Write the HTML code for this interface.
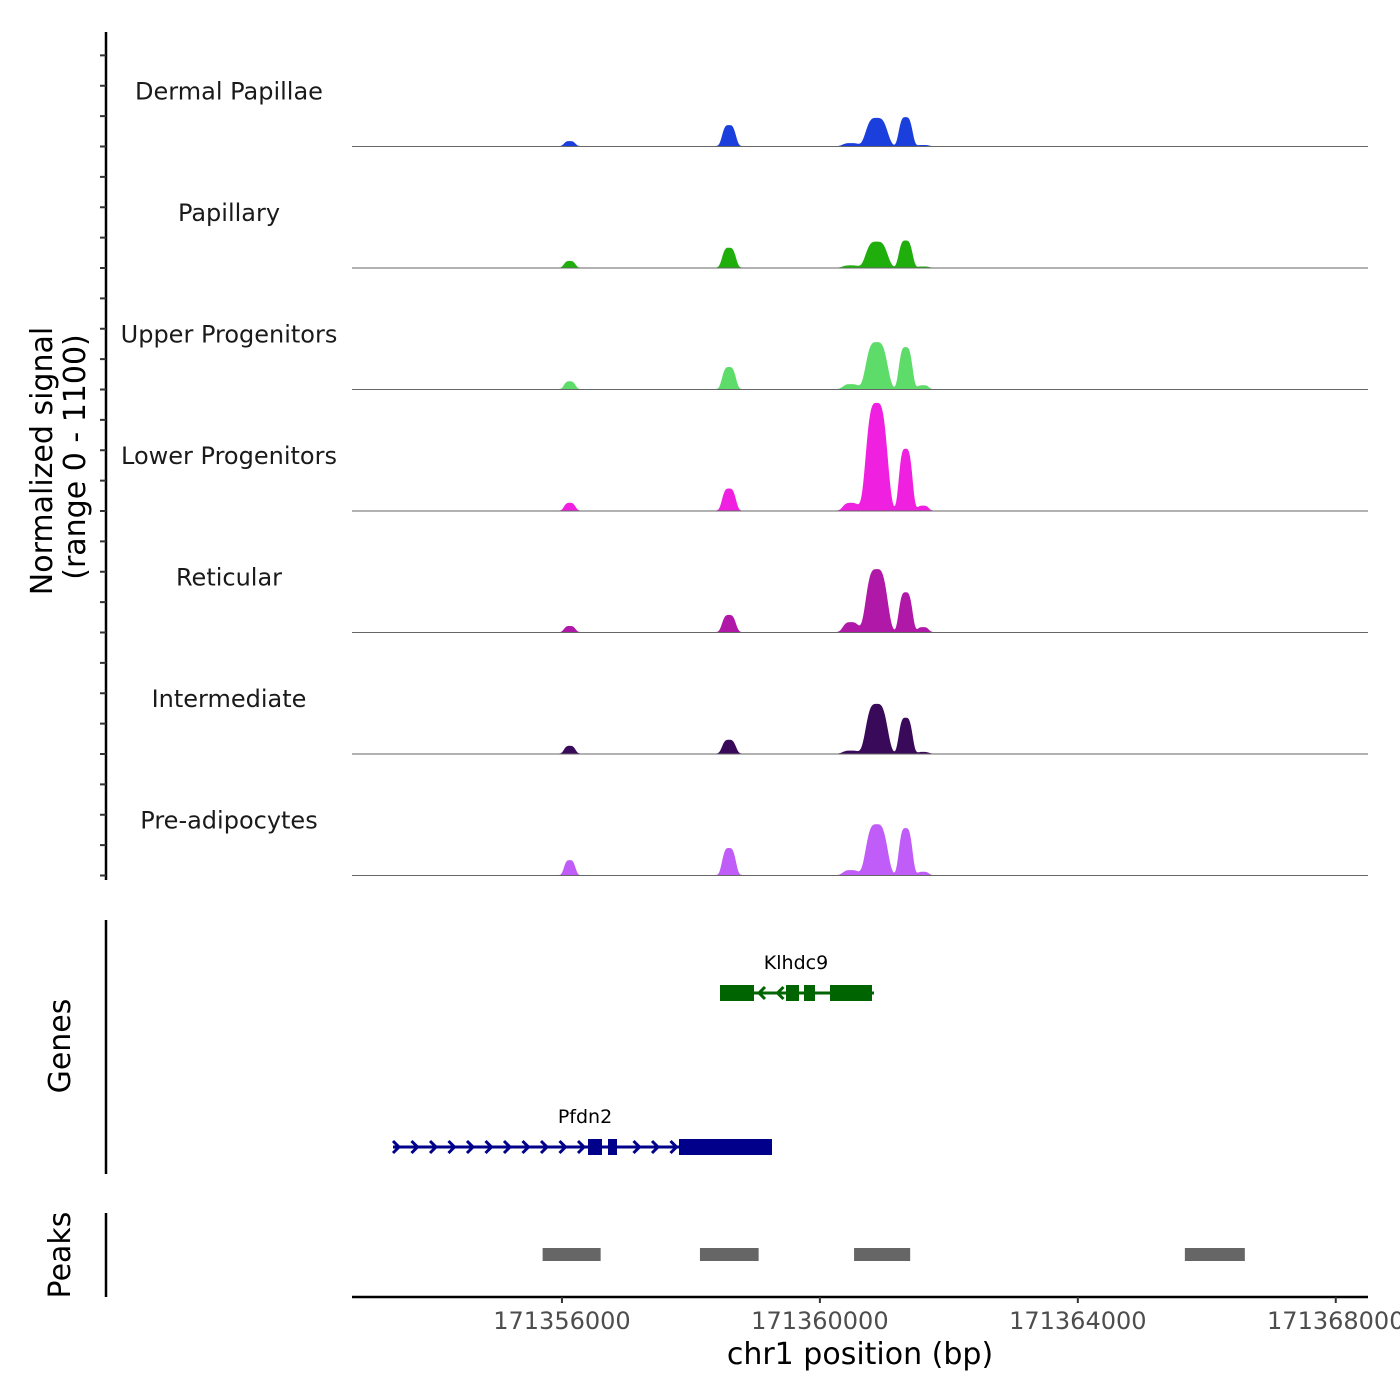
<!DOCTYPE html>
<html><head><meta charset="utf-8"><style>
html,body{margin:0;padding:0;background:#fff;width:1400px;height:1400px;overflow:hidden}
svg{font-family:"DejaVu Sans","Liberation Sans",sans-serif}
</style></head><body>
<svg id="chart" width="1400" height="1400" viewBox="0 0 1400 1400" xmlns="http://www.w3.org/2000/svg"></svg>
<script>
const trackNames = ["Dermal Papillae","Papillary","Upper Progenitors","Lower Progenitors","Reticular","Intermediate","Pre-adipocytes"];
const trackColors = ["#1a3fdc","#1fae0c","#5ddc6a","#f020e0","#b018a8","#3a0a5a","#c05cf8"];
const peakCenters = [171356120,171358590,171360480,171360880,171361330,171361600];
const peakWidths = [100,120,140,190,120,100];
const dermalValues = [45,190,27,255,262,10];
const papillaryValues = [60,180,20,235,245,10];
const upperValues = [70,200,45,425,380,35];
const lowerValues = [70,200,70,975,560,45];
const reticularValues = [55,155,90,570,360,45];
const intermediateValues = [70,125,27,450,325,15];
const preadipoValues = [135,245,45,460,425,30];
const trackValues = [dermalValues,papillaryValues,upperValues,lowerValues,reticularValues,intermediateValues,preadipoValues];
const xTicks = [171356000,171360000,171364000,171368000];
const peakRegions = [[171355700,171356600],[171358140,171359050],[171360530,171361400],[171365660,171366590]];
const xMin = 171352744, xMax = 171368500;

const svg = document.getElementById('chart');
const NS = "http://www.w3.org/2000/svg";
function mk(tag, attrs, parent){const e=document.createElementNS(NS,tag);for(const k in attrs)e.setAttribute(k,attrs[k]);(parent||svg).appendChild(e);return e;}
const X0=352, X1=1368;
function xs(bp){return X0+(bp-xMin)/(xMax-xMin)*(X1-X0);}
const trackH=121.5, firstBase=146.5;
function ys(v,base){return base - v/1100*trackH;}

let ax=mk('line',{x1:106,y1:32,x2:106,y2:880,stroke:'#000','stroke-width':2.5});

for(let t=0;t<7;t++){const base=firstBase+t*trackH;for(let k=0;k<4;k++){const y=base-k*trackH/4;
 const tk=mk('line',{x1:100,y1:y,x2:106,y2:y,stroke:'#333','stroke-width':2});
 }}
let yt=mk('text',{x:0,y:0,'font-size':30,'text-anchor':'middle',transform:'translate(52,461) rotate(-90)'});

yt.textContent='Normalized signal';
let yt2=mk('text',{x:0,y:0,'font-size':30,'text-anchor':'middle',transform:'translate(85,457) rotate(-90)'});

yt2.textContent='(range 0 - 1100)';

trackNames.forEach((name,t)=>{
 const base=firstBase+t*trackH;
 const g=mk('g',{});
 const lab=mk('text',{x:229,y:base-47,'font-size':24,'text-anchor':'middle',fill:'#1a1a1a'},g);
 lab.textContent=name;
 const vals=trackValues[t];
 let d='M'+X0+','+base;
 for(let px=X0;px<=X1;px+=1){
  const bp=xMin+(px-X0)/(X1-X0)*(xMax-xMin);
  let v=4;
  peakCenters.forEach((c,i)=>{const z=(bp-c)/peakWidths[i];v+=vals[i]*Math.exp(-Math.pow(Math.abs(z),3.5));});
  d+=' L'+px+','+ys(v,base).toFixed(1);
 }
 d+=' L'+X1+','+base+' Z';
 const area=mk('path',{d:d,fill:trackColors[t]},g);
 
 const bl=mk('line',{x1:X0,y1:base,x2:X1,y2:base,stroke:'#666','stroke-width':1},g);
 
});

let ga=mk('line',{x1:106,y1:920,x2:106,y2:1174,stroke:'#000','stroke-width':2.5});

let gt=mk('text',{x:0,y:0,'font-size':30,'text-anchor':'middle',transform:'translate(70,1046) rotate(-90)'});
gt.textContent='Genes';
function gene(name,color,y,x1,x2,exons,dir,lx,ly){
 const g=mk('g',{});
 mk('line',{x1:x1,y1:y,x2:x2,y2:y,stroke:color,'stroke-width':3},g);
 for(let x=x1+4;x<x2;x+=18.5){
  let inEx=exons.some(e=>x>e[0]-4&&x<e[1]+4);if(inEx)continue;
  mk('polyline',{points:dir>0?`${x-4},${y-6} ${x+2},${y} ${x-4},${y+6}`:`${x+4},${y-6} ${x-2},${y} ${x+4},${y+6}`,fill:'none',stroke:color,'stroke-width':3},g);
 }
 exons.forEach(e=>mk('rect',{x:e[0],y:y-8,width:e[1]-e[0],height:16,fill:color},g));
 const t=mk('text',{x:lx,y:ly,'font-size':19,'text-anchor':'middle',fill:'#000'},g);
 t.textContent=name;
}
gene('Klhdc9','#006400',993,720,874,[[720,754],[786,799],[804,815],[830,872]],-1,796,969);
gene('Pfdn2','#00008b',1147,393,772,[[588,602],[608,617],[679,772]],1,585,1123);

let pa=mk('line',{x1:106,y1:1213,x2:106,y2:1297,stroke:'#000','stroke-width':2.5});

let pt=mk('text',{x:0,y:0,'font-size':30,'text-anchor':'middle',transform:'translate(70,1255) rotate(-90)'});
pt.textContent='Peaks';
peakRegions.forEach(r=>{const p=mk('rect',{x:xs(r[0]),y:1248,width:xs(r[1])-xs(r[0]),height:13,fill:'#666'});
 });

let xa=mk('line',{x1:X0,y1:1297,x2:X1,y2:1297,stroke:'#000','stroke-width':2.5});

xTicks.forEach(v=>{const x=xs(v);
 const tk=mk('line',{x1:x,y1:1297,x2:x,y2:1303,stroke:'#333','stroke-width':2});
 
 const tl=mk('text',{x:x,y:1329,'font-size':24,'text-anchor':'middle',fill:'#4d4d4d'});
 tl.textContent=v;});
let xt=mk('text',{x:860,y:1364,'font-size':30,'text-anchor':'middle',fill:'#000'});
xt.textContent='chr1 position (bp)';
</script>
</body></html>
